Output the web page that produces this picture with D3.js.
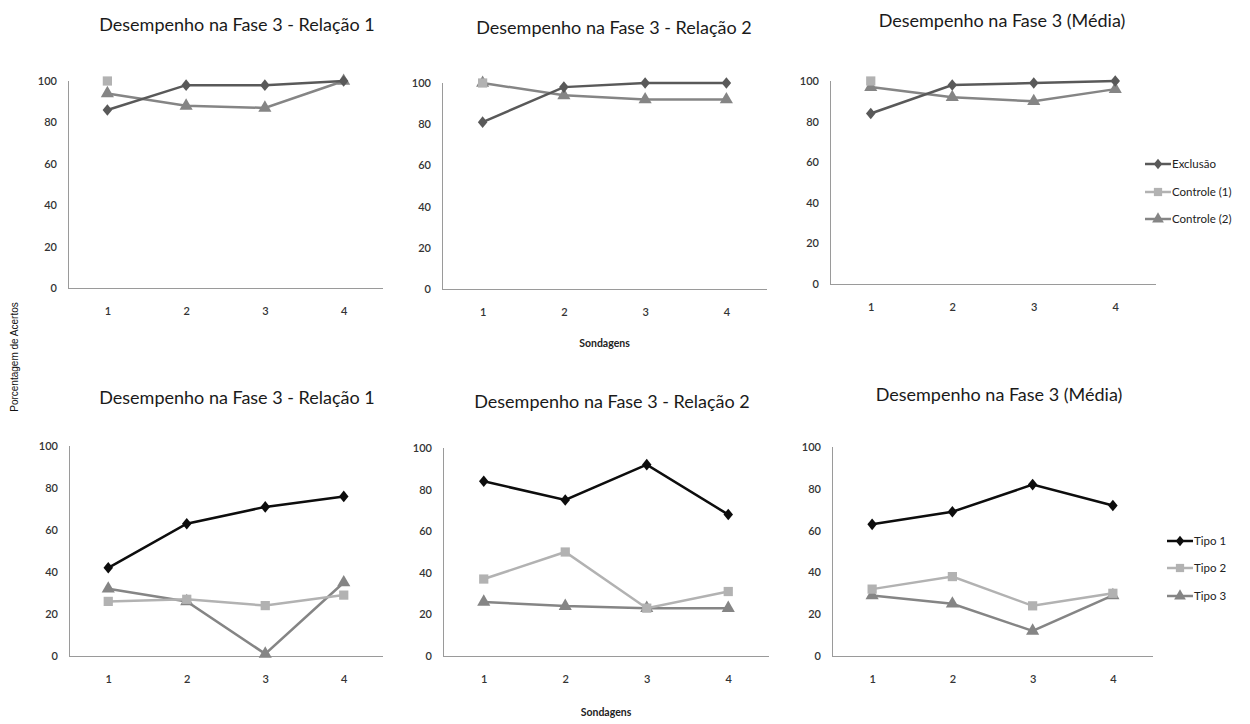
<!DOCTYPE html>
<html>
<head>
<meta charset="utf-8">
<script src="https://cdn.jsdelivr.net/npm/d3@7"></script>
<style>
  body { margin: 0; background: #fff; }
  svg { display: block; }
  .title { font-family: Lato, sans-serif; font-size: 18px; fill: #1a1a1a; }
  .tick text { font-family: Lato, sans-serif; font-size: 11px; font-weight: 600; fill: #333; }
  .legend text { font-family: Lato, sans-serif; font-size: 11.5px; fill: #222; }
  .axis-title { font-family: Lato, sans-serif; font-size: 10.5px; font-weight: bold; fill: #222; }
  .y-title { font-family: "Liberation Sans", Arial, sans-serif; font-size: 10px; fill: #111; }
</style>
</head>
<body>
<script>
const width = 1250;
const height = 724;

const sondagens = [1, 2, 3, 4];
const yTicks = [0, 20, 40, 60, 80, 100];
const titles = [
  "Desempenho na Fase 3 - Relação 1",
  "Desempenho na Fase 3 - Relação 2",
  "Desempenho na Fase 3 (Média)"
];
const topNames = ["Exclusão", "Controle (1)", "Controle (2)"];
const bottomNames = ["Tipo 1", "Tipo 2", "Tipo 3"];

// top row: Exclusão / Controle (1) / Controle (2)
const exclusaoR1 = [86, 98, 98, 100];
const controle1R1 = [100, null, null, null];
const controle2R1 = [94, 88, 87, 100];

const exclusaoR2 = [81, 98, 100, 100];
const controle1R2 = [100, null, null, null];
const controle2R2 = [100, 94, 92, 92];

const exclusaoMedia = [84, 98, 99, 100];
const controle1Media = [100, null, null, null];
const controle2Media = [97, 92, 90, 96];

// bottom row: Tipo 1 / Tipo 2 / Tipo 3
const tipo1R1 = [42, 63, 71, 76];
const tipo2R1 = [26, 27, 24, 29];
const tipo3R1 = [32, 26, 1, 35];

const tipo1R2 = [84, 75, 92, 68];
const tipo2R2 = [37, 50, 23, 31];
const tipo3R2 = [26, 24, 23, 23];

const tipo1Media = [63, 69, 82, 72];
const tipo2Media = [32, 38, 24, 30];
const tipo3Media = [29, 25, 12, 29];

const topColors = ["#595959", "#b2b2b2", "#858585"];
const bottomColors = ["#0d0d0d", "#b2b2b2", "#858585"];

// excel-like diamond, a bit narrower than tall
const excelDiamond = {
  draw(ctx, size) {
    const h = Math.sqrt(size) * 0.75;
    const w = h * 0.82;
    ctx.moveTo(0, -h);
    ctx.lineTo(w, 0);
    ctx.lineTo(0, h);
    ctx.lineTo(-w, 0);
    ctx.closePath();
  }
};
const symbols = [excelDiamond, d3.symbolSquare, d3.symbolTriangle];
const symbolSizes = [60, 85, 75];

const panels = [
  { frame: [68, 383, 81, 288], title: [237, 25], names: topNames, colors: topColors,
    series: [exclusaoR1, controle1R1, controle2R1], title_i: 0 },
  { frame: [442, 767, 83, 289], title: [614, 28], names: topNames, colors: topColors,
    series: [exclusaoR2, controle1R2, controle2R2], title_i: 1, xTitle: 343 },
  { frame: [830, 1156, 81, 284], title: [1002, 21], names: topNames, colors: topColors,
    series: [exclusaoMedia, controle1Media, controle2Media], title_i: 2,
    legend: [1145, [164, 192, 219]] },
  { frame: [69, 383, 446, 656], title: [237, 398], names: bottomNames, colors: bottomColors,
    series: [tipo1R1, tipo2R1, tipo3R1], title_i: 0 },
  { frame: [443, 769, 448, 656], title: [612, 402], names: bottomNames, colors: bottomColors,
    series: [tipo1R2, tipo2R2, tipo3R2], title_i: 1, xTitle: 712 },
  { frame: [832, 1153, 447, 656], title: [999, 395], names: bottomNames, colors: bottomColors,
    series: [tipo1Media, tipo2Media, tipo3Media], title_i: 2,
    legend: [1167, [541, 568, 596]] }
];

const svg = d3.select("body").append("svg")
  .attr("width", width)
  .attr("height", height);

panels.forEach(p => drawPanel(p));

svg.append("text")
  .attr("class", "y-title")
  .attr("transform", "translate(18,357) rotate(-90)")
  .attr("text-anchor", "middle")
  .text("Porcentagem de Acertos");

function drawPanel(p) {
  const [left, right, top, bottom] = p.frame;
  const g = svg.append("g");

  const x = d3.scalePoint()
    .domain(sondagens)
    .range([left, right])
    .padding(0.5);

  const y = d3.scaleLinear()
    .domain([0, 100])
    .range([bottom, top]);

  g.append("text")
    .attr("class", "title")
    .attr("x", p.title[0])
    .attr("y", p.title[1])
    .attr("dy", "0.35em")
    .attr("text-anchor", "middle")
    .text(titles[p.title_i]);

  const xAxis = g.append("g")
    .attr("transform", `translate(0,${bottom})`)
    .call(d3.axisBottom(x).tickSize(0).tickPadding(19));
  xAxis.select(".domain").attr("stroke", "#9a9a9a").attr("d", `M${left},0.5H${right}`);

  const yAxis = g.append("g")
    .attr("transform", `translate(${left},0)`)
    .call(d3.axisLeft(y).tickValues(yTicks).tickSize(0).tickPadding(11));
  yAxis.select(".domain").attr("stroke", "#9a9a9a").attr("d", `M0.5,${top}V${bottom}`);

  if (p.xTitle) {
    g.append("text")
      .attr("class", "axis-title")
      .attr("x", (left + right) / 2)
      .attr("y", p.xTitle)
      .attr("dy", "0.35em")
      .attr("text-anchor", "middle")
      .text("Sondagens");
  }

  const line = d3.line()
    .defined(d => d[1] != null)
    .x(d => x(d[0]))
    .y(d => y(d[1]));

  // draw in reverse so the first series sits on top
  p.series.map((vals, i) => i).reverse().forEach(i => {
    const vals = p.series[i];
    const pts = sondagens.map((s, k) => [s, vals[k]]);
    g.append("path")
      .datum(pts)
      .attr("fill", "none")
      .attr("stroke", p.colors[i])
      .attr("stroke-width", 2.5)
      .attr("d", line);

    g.selectAll(null)
      .data(pts.filter(d => d[1] != null))
      .enter().append("path")
      .attr("transform", d => `translate(${x(d[0])},${y(d[1])})`)
      .attr("d", d3.symbol().type(symbols[i]).size(symbolSizes[i]))
      .attr("fill", p.colors[i]);
  });

  if (p.legend) {
    const [lx, rows] = p.legend;
    const lg = g.append("g").attr("class", "legend");
    p.names.forEach((name, i) => {
      lg.append("line")
        .attr("x1", lx).attr("x2", lx + 26)
        .attr("y1", rows[i]).attr("y2", rows[i])
        .attr("stroke", p.colors[i])
        .attr("stroke-width", 2.5);
      lg.append("path")
        .attr("transform", `translate(${lx + 13},${rows[i]})`)
        .attr("d", d3.symbol().type(symbols[i]).size(symbolSizes[i] * 0.8))
        .attr("fill", p.colors[i]);
      lg.append("text")
        .attr("x", lx + 27)
        .attr("y", rows[i])
        .attr("dy", "0.35em")
        .text(name);
    });
  }
}
</script>
</body>
</html>
